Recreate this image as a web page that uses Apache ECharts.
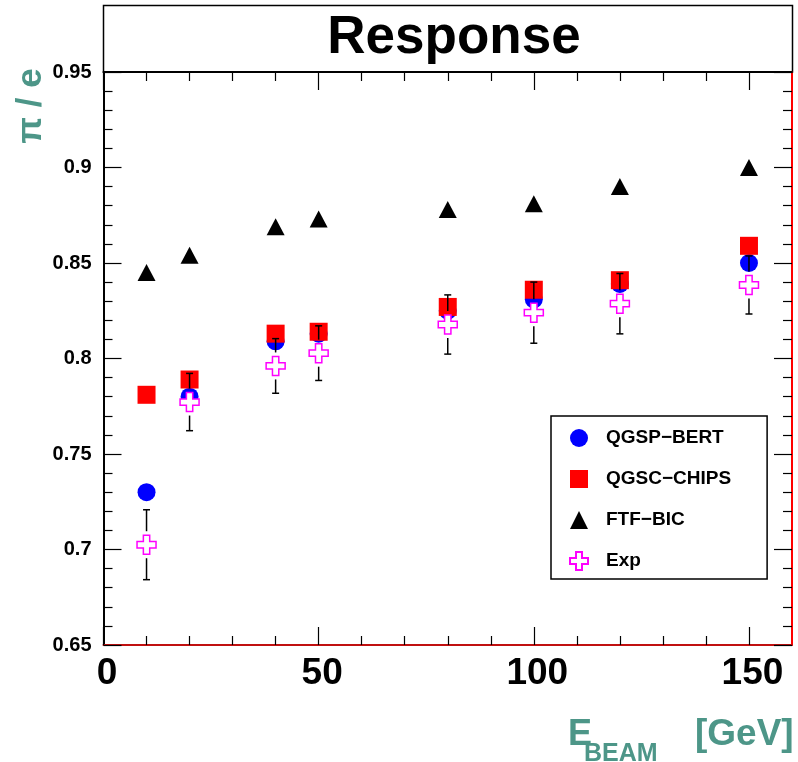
<!DOCTYPE html>
<html>
<head>
<meta charset="utf-8">
<title>Response</title>
<script src="https://cdn.jsdelivr.net/npm/echarts@6/dist/echarts.min.js"></script>
<style>
    html, body { margin: 0; padding: 0; background: #fff; }
    #charts { width: 798px; height: 762px; }
</style>
</head>
<body>
<div id="charts"></div>
<script>
    // beam energies, GeV
    var energies = [10, 20, 40, 50, 80, 100, 120, 150];
    // pi/e response per model
    var qgspBert  = [0.730, 0.780, 0.809, 0.813, 0.825, 0.831, 0.839, 0.850];
    var qgscChips = [0.781, 0.789, 0.813, 0.814, 0.827, 0.836, 0.841, 0.859];
    var ftfBic    = [0.845, 0.854, 0.869, 0.873, 0.878, 0.881, 0.890, 0.900];
    // data with errors
    var expVal = [0.7025, 0.7772, 0.7961, 0.8028, 0.8178, 0.8240, 0.8287, 0.8385];
    var expErr = [0.0183, 0.0150, 0.0143, 0.0143, 0.0155, 0.0160, 0.0158, 0.0152];

    // ticks
    var xMajorTicks = [0, 50, 100, 150];
    var xMinorTicks = [10, 20, 30, 40, 60, 70, 80, 90, 110, 120, 130, 140];
    var yTicks = [0.65, 0.7, 0.75, 0.8, 0.85, 0.9, 0.95];

    var teal = '#4d9688';
    var font = '"Liberation Sans", Arial, Helvetica, sans-serif';
    var crossPath = 'path://M1,0 L2,0 L2,1 L3,1 L3,2 L2,2 L2,3 L1,3 L1,2 L0,2 L0,1 L1,1 Z';

    function pairs(vals) {
        return energies.map(function (e, i) { return [e, vals[i]]; });
    }

    function xAxisOf(pos, ticks, len, showLine, lineColor, showLabel) {
        return {
            type: 'value', position: pos, min: 0, max: 160,
            splitLine: { show: false },
            axisLine: { show: showLine, onZero: false, lineStyle: { color: lineColor, width: 2 } },
            axisTick: { inside: true, length: len, customValues: ticks, lineStyle: { color: '#000', width: 1.2 } },
            axisLabel: {
                show: showLabel, customValues: ticks, margin: 10, padding: [0, 0, 0, 7],
                fontFamily: font, fontWeight: 'bold', fontSize: 37, color: '#000'
            }
        };
    }

    function yAxisOf(pos, lineColor, showLabel) {
        return {
            type: 'value', position: pos, min: 0.65, max: 0.95, interval: 0.05,
            splitLine: { show: false },
            axisLine: { show: true, onZero: false, lineStyle: { color: lineColor, width: 2 } },
            axisTick: { inside: true, length: 18, lineStyle: { color: '#000', width: 1.2 } },
            minorTick: { show: true, splitNumber: 5, length: 9, lineStyle: { color: '#000', width: 1.2 } },
            axisLabel: {
                show: showLabel, customValues: yTicks, margin: 12,
                fontFamily: font, fontWeight: 'bold', fontSize: 20, color: '#000'
            }
        };
    }

    var myChart = echarts.init(document.getElementById('charts'));
    var option = {
        animation: false,
        backgroundColor: '#fff',
        title: {
            text: 'Response', left: 449, top: 7, textAlign: 'center',
            textStyle: { fontFamily: font, fontWeight: 'bold', fontSize: 53, color: '#000' }
        },
        graphic: [
            { type: 'rect', z: -1, shape: { x: 103.5, y: 5.5, width: 689, height: 66.5 },
              style: { fill: '#fff', stroke: '#000', lineWidth: 1.5 } },
            { type: 'text', x: 31, y: 106, rotation: Math.PI / 2,
              style: { text: 'π / e', fill: teal, font: 'bold 35px ' + font, align: 'center', verticalAlign: 'middle' } },
            { type: 'text', x: 568, y: 735,
              style: { text: 'E', fill: teal, font: 'bold 36px ' + font, align: 'left', verticalAlign: 'middle' } },
            { type: 'text', x: 584, y: 754,
              style: { text: 'BEAM', fill: teal, font: 'bold 25px ' + font, align: 'left', verticalAlign: 'middle' } },
            { type: 'text', x: 695, y: 735,
              style: { text: '[GeV]', fill: teal, font: 'bold 37px ' + font, align: 'left', verticalAlign: 'middle' } }
        ],
        legend: {
            orient: 'vertical', left: 551, top: 416,
            padding: [12, 36, 8, 18],
            itemWidth: 18, itemHeight: 18, itemGap: 21,
            borderColor: '#000', borderWidth: 1.5, backgroundColor: '#fff',
            selectedMode: false,
            textStyle: { fontFamily: font, fontWeight: 'bold', fontSize: 19, color: '#000', lineHeight: 20, padding: [0, 0, 0, 13] },
            data: ['QGSP−BERT', 'QGSC−CHIPS', 'FTF−BIC', 'Exp']
        },
        grid: { left: 103.5, right: 6, top: 72, bottom: 117, containLabel: false },
        xAxis: [
            xAxisOf('bottom', xMajorTicks, 18, true, '#c01010', true),
            xAxisOf('bottom', xMinorTicks, 9, false, '#000', false),
            xAxisOf('top', xMajorTicks, 18, true, '#000', false),
            xAxisOf('top', xMinorTicks, 9, false, '#000', false)
        ],
        yAxis: [
            yAxisOf('left', '#000', true),
            yAxisOf('right', '#ff0000', false)
        ],
        series: [
            {
                name: 'QGSP−BERT', type: 'scatter', symbol: 'circle', symbolSize: 18, z: 2,
                itemStyle: { color: '#0000ff', opacity: 1 }, data: pairs(qgspBert)
            },
            {
                name: 'QGSC−CHIPS', type: 'scatter', symbol: 'rect', symbolSize: 18, z: 3,
                itemStyle: { color: '#ff0000', opacity: 1 }, data: pairs(qgscChips)
            },
            {
                name: 'FTF−BIC', type: 'scatter', symbol: 'triangle', symbolSize: [18, 17], z: 3,
                itemStyle: { color: '#000', opacity: 1 }, data: pairs(ftfBic)
            },
            {
                name: 'Exp err', type: 'custom', z: 4,
                data: energies.map(function (e, i) { return [e, expVal[i], expErr[i]]; }),
                renderItem: function (params, api) {
                    var x = api.value(0), y = api.value(1), err = api.value(2);
                    var c = api.coord([x, y]);
                    var hi = api.coord([x, y + err]);
                    var lo = api.coord([x, y - err]);
                    var gap = 13.5, cap = 3.5;
                    var st = { stroke: '#000', lineWidth: 1.5 };
                    var kids = [];
                    if (hi[1] < c[1] - gap) {
                        kids.push({ type: 'line', shape: { x1: c[0], y1: c[1] - gap, x2: c[0], y2: hi[1] }, style: st });
                        kids.push({ type: 'line', shape: { x1: c[0] - cap, y1: hi[1], x2: c[0] + cap, y2: hi[1] }, style: st });
                    }
                    if (lo[1] > c[1] + gap) {
                        kids.push({ type: 'line', shape: { x1: c[0], y1: c[1] + gap, x2: c[0], y2: lo[1] }, style: st });
                        kids.push({ type: 'line', shape: { x1: c[0] - cap, y1: lo[1], x2: c[0] + cap, y2: lo[1] }, style: st });
                    }
                    return { type: 'group', children: kids };
                }
            },
            {
                name: 'Exp', type: 'scatter', symbol: crossPath, symbolSize: 19, z: 5,
                itemStyle: { color: '#fff', borderColor: '#ff00ff', borderWidth: 1.5, opacity: 1 },
                data: pairs(expVal)
            }
        ]
    };
    myChart.setOption(option);
</script>
</body>
</html>
